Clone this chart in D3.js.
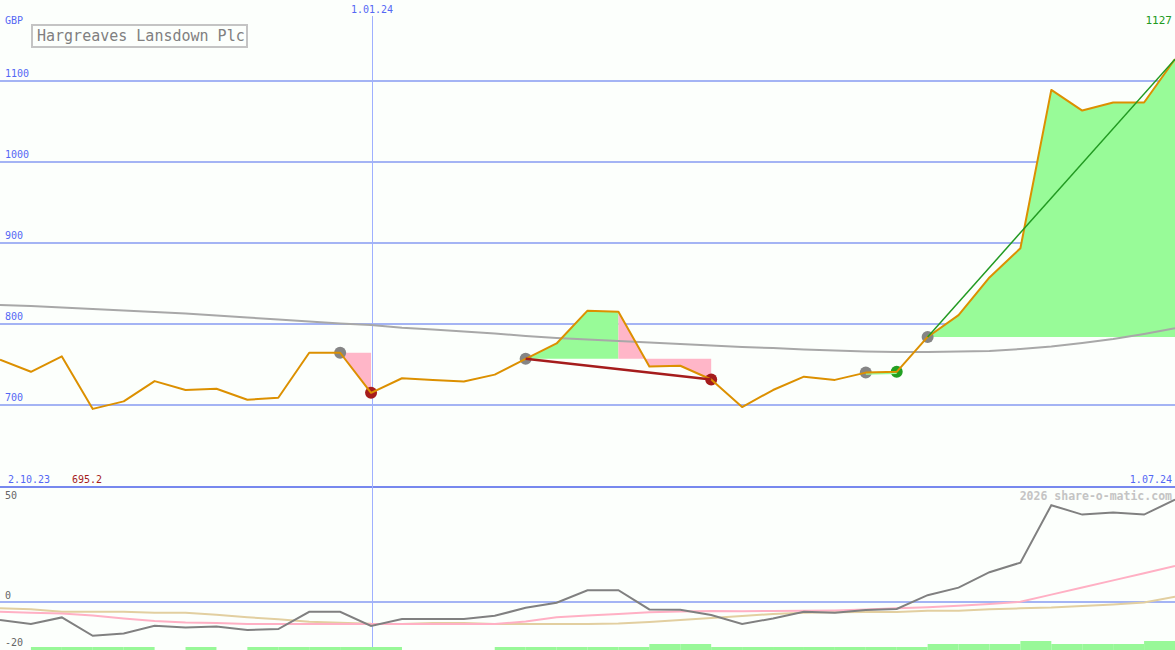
<!DOCTYPE html>
<html><head><meta charset="utf-8">
<script src="https://cdn.jsdelivr.net/npm/d3@7"></script>
<style>html,body{margin:0;padding:0;background:#fcfffc;overflow:hidden}svg{display:block}</style>
</head><body><svg id="c" width="1175" height="650"></svg>
<script>
const dates = ["9.10.23","16.10.23","23.10.23","30.10.23","6.11.23","13.11.23","20.11.23","27.11.23","4.12.23","11.12.23","18.12.23","25.12.23","1.01.24","8.01.24","15.01.24","22.01.24","29.01.24","5.02.24","12.02.24","19.02.24","26.02.24","4.03.24","11.03.24","18.03.24","25.03.24","1.04.24","8.04.24","15.04.24","22.04.24","29.04.24","6.05.24","13.05.24","20.05.24","27.05.24","3.06.24","10.06.24","17.06.24","24.06.24","1.07.24"];
const price = [756,741,760,695.2,704.5,729.5,718.5,720,706.5,709,764.5,764.5,715,733,731,729,737.5,757,776,816.5,815,747.5,748.5,731.5,697.5,718.5,735,731,740,741,784,811,857.5,893.5,1089,1063.5,1073.5,1073.5,1127];
const trend = [823.5,822.2,820.4,818.5,816.7,814.8,813,810.5,808,805.6,803.1,800.6,798.8,795.4,793.2,790.7,788.3,785.2,782.7,780.9,779,777.2,775.3,773.5,771.6,770.4,768.5,767.3,766,765.4,765.4,766,766.7,769.1,772.2,776.5,781.5,787.7,794.7];
const osc = [-9,-11,-7.7,-16.9,-15.7,-11.9,-12.7,-12.3,-14,-13.5,-4.9,-4.9,-12,-8.5,-8.5,-8.5,-6.9,-2.9,-0.4,5.9,5.9,-3.7,-3.9,-6.5,-11,-8.2,-4.9,-5.4,-4,-3.5,3.4,7.2,14.9,19.7,48.4,43.7,44.7,43.7,51.2];
const oscFast = [-4.85,-5.35,-5.75,-6.75,-8.25,-9.5,-10.25,-10.5,-11,-11,-11,-11,-11,-11,-11,-11,-11,-9.75,-7.65,-6.75,-6,-5.15,-4.75,-4.5,-4.6,-4.5,-4.4,-4.2,-3.75,-3.15,-2.6,-1.9,-1,0.15,3.7,7.25,10.8,14.35,18];
const oscSlow = [-3.15,-3.65,-4.85,-4.85,-4.85,-5.35,-5.35,-6.35,-7.65,-8.65,-9.85,-10.35,-10.85,-11,-10.5,-10.5,-11,-11,-11,-11,-10.75,-10,-9,-8,-7,-6,-5.35,-5.15,-5,-5,-4.35,-4.35,-3.65,-3.15,-2.75,-2,-1.25,-0.25,2.65];
const strength = [0,1,1,1,1,0,1,0,1,1,1,1,1,0,0,0,1,1,1,1,1,2,2,1,1,1,1,1,1,1,2,2,2,3,2,2,2,3];
const priceTicks = [700,800,900,1000,1100];
const lowerTicks = [50,0,-20];
const title = "Hargreaves Lansdown Plc";
const currency = "GBP";
const periodStart = "2.10.23";
const markerDate = "1.01.24";
const watermark = "2026 share-o-matic.com";
const signals = [{i:11,kind:"watch"},{i:12,kind:"sell"},{i:17,kind:"watch"},{i:23,kind:"sell"},{i:28,kind:"watch"},{i:29,kind:"buy"},{i:30,kind:"watch"}];
const zones = [{from:11,to:12,ref:11,kind:"loss"},{from:17,to:20,ref:17,kind:"gain"},{from:20,to:23,ref:17,kind:"loss"},{from:30,to:38,ref:30,kind:"gain"}];
const trades = [{from:17,to:23,kind:"loss"},{from:30,to:38,kind:"gain"}];
const pending = [{from:28,to:29}];

const W = 1175, H = 650;
const svg = d3.select("#c");
const font = "'DejaVu Sans Mono', monospace";
const blue = "#5468f4", grid = "#a4b4f4";

const x = d3.scalePoint().domain(dates).range([0, W]);
const y = d3.scaleLinear().domain([700, 1100]).range([405, 81]);
const yl = d3.scaleLinear().domain([-20, 50]).range([642, 502]);
const yb = d3.scaleLinear().domain([0, 3]).range([650, 641]);
const X = i => x(dates[i]);

svg.append("rect").attr("width", W).attr("height", H).attr("fill", "#fcfffc");

// grid lines main
svg.append("g").selectAll("line").data(priceTicks).join("line")
  .attr("x1", 0).attr("x2", W).attr("y1", d => Math.round(y(d))).attr("y2", d => Math.round(y(d)))
  .attr("stroke", grid).attr("stroke-width", 2);
svg.append("g").selectAll("text").data(priceTicks).join("text")
  .attr("x", 5).attr("y", d => Math.round(y(d)) - 4).text(d => d)
  .attr("fill", blue).attr("font-family", font).attr("font-size", 10);

// lower zero line & border
svg.append("line").attr("x1", 0).attr("x2", W).attr("y1", Math.round(yl(0))).attr("y2", Math.round(yl(0)))
  .attr("stroke", grid).attr("stroke-width", 2);
svg.append("line").attr("x1", 0).attr("x2", W).attr("y1", 487).attr("y2", 487)
  .attr("stroke", "#7788ee").attr("stroke-width", 2);
svg.append("g").selectAll("text").data(lowerTicks).join("text")
  .attr("x", 5).attr("y", d => d === -20 ? 646 : Math.round(yl(d)) - 3).text(d => d)
  .attr("fill", "#666").attr("font-family", font).attr("font-size", 10);

// vertical date line
const vx = Math.round(X(dates.indexOf(markerDate))) + 1;
svg.append("rect").attr("x", vx).attr("y", 16).attr("width", 1).attr("height", H - 16)
  .attr("fill", "#9fb0ff");
svg.append("text").attr("x", vx).attr("y", 13).attr("text-anchor", "middle").text(markerDate)
  .attr("fill", blue).attr("font-family", font).attr("font-size", 10);

// zones
const zoneColor = {gain: "#98fb98", loss: "#ffb6c8"};
svg.append("g").selectAll("path").data(zones).join("path")
  .attr("d", z => {
    const pts = d3.range(z.from, z.to + 1).map(i => [X(i), y(price[i])]);
    pts.push([X(z.to), y(price[z.ref])], [X(z.from), y(price[z.ref])]);
    return d3.line()(pts) + "Z";
  })
  .attr("fill", z => zoneColor[z.kind]);

// trend line
svg.append("path").datum(trend)
  .attr("d", d3.line().x((d, i) => X(i)).y(d => y(d)))
  .attr("fill", "none").attr("stroke", "#a8a8a8").attr("stroke-width", 2);

// signal dots
const dotColor = {watch: "#858585", sell: "#a51c1c", buy: "#22a022"};
svg.append("g").selectAll("circle").data(signals).join("circle")
  .attr("cx", s => X(s.i)).attr("cy", s => y(price[s.i])).attr("r", 6)
  .attr("fill", s => dotColor[s.kind]);

// pending segment (under price line)
svg.append("g").selectAll("line").data(pending).join("line")
  .attr("x1", t => X(t.from)).attr("y1", t => y(price[t.from]) + 1.5)
  .attr("x2", t => X(t.to)).attr("y2", t => y(price[t.to]) + 1.5)
  .attr("stroke", "#98fb98").attr("stroke-width", 1.5);

// price line
svg.append("path").datum(price)
  .attr("d", d3.line().x((d, i) => X(i)).y(d => y(d)))
  .attr("fill", "none").attr("stroke", "#dc9000").attr("stroke-width", 2).attr("stroke-linejoin", "round");

// trade lines
const tradeColor = {loss: "#a51c1c", gain: "#229a22"};
const tradeWidth = {loss: 2.5, gain: 1.5};
svg.append("g").selectAll("line").data(trades).join("line")
  .attr("x1", t => X(t.from)).attr("y1", t => y(price[t.from]))
  .attr("x2", t => X(t.to)).attr("y2", t => y(price[t.to]))
  .attr("stroke", t => tradeColor[t.kind]).attr("stroke-width", t => tradeWidth[t.kind]);

// title box
svg.append("rect").attr("x", 32).attr("y", 25).attr("width", 215).attr("height", 22)
  .attr("fill", "#fcfffc").attr("stroke", "#c4c4c4").attr("stroke-width", 2);
svg.append("text").attr("x", 37).attr("y", 41).text(title)
  .attr("fill", "#808080").attr("font-family", font).attr("font-size", 15);

svg.append("text").attr("x", 5).attr("y", 24).text(currency)
  .attr("fill", blue).attr("font-family", font).attr("font-size", 10);
svg.append("text").attr("x", 1172).attr("y", 24).attr("text-anchor", "end").text(d3.format("d")(price[price.length - 1]))
  .attr("fill", "#229a22").attr("font-family", font).attr("font-size", 11);

// bottom labels
svg.append("text").attr("x", 8).attr("y", 483).text(periodStart)
  .attr("fill", blue).attr("font-family", font).attr("font-size", 10);
svg.append("text").attr("x", 72).attr("y", 483).text(d3.format(".1f")(d3.min(price)))
  .attr("fill", "#a51c1c").attr("font-family", font).attr("font-size", 10);
svg.append("text").attr("x", 1172).attr("y", 483).attr("text-anchor", "end").text(dates[dates.length - 1])
  .attr("fill", blue).attr("font-family", font).attr("font-size", 10);
svg.append("text").attr("x", 1172).attr("y", 500).attr("text-anchor", "end").text(watermark)
  .attr("fill", "#c4c4c4").attr("font-family", font).attr("font-size", 11.5).attr("font-weight", "bold");

// lower panel
svg.append("g").selectAll("rect").data(strength).join("rect")
  .attr("x", (d, i) => X(i)).attr("width", (d, i) => X(i + 1) - X(i))
  .attr("y", d => yb(d)).attr("height", d => yb(0) - yb(d))
  .attr("fill", "#98f898");
const ll = d3.line().x((d, i) => X(i)).y(d => yl(d));
svg.append("path").datum(oscSlow).attr("d", ll).attr("fill", "none").attr("stroke", "#e2cfa0").attr("stroke-width", 2);
svg.append("path").datum(oscFast).attr("d", ll).attr("fill", "none").attr("stroke", "#ffb0c4").attr("stroke-width", 2);
svg.append("path").datum(osc).attr("d", ll).attr("fill", "none").attr("stroke", "#808080").attr("stroke-width", 2);
</script></body></html>
